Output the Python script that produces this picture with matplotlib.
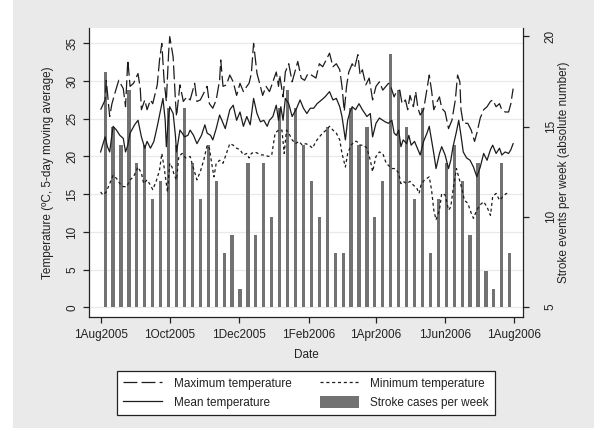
import matplotlib
matplotlib.use("Agg")
import matplotlib.pyplot as plt
import matplotlib.transforms as mtransforms
from matplotlib.patches import Patch, Rectangle
from matplotlib.lines import Line2D
import pandas as pd

plt.rcParams['font.family'] = ['Liberation Sans', 'DejaVu Sans']
plt.rcParams['lines.scale_dashes'] = False

# ---------------- data ----------------
start_date = "2005-08-01"

max_days = [0, 4, 5, 8, 10, 13, 16, 20, 22, 24, 26, 29, 33, 35, 36, 39, 41, 44, 46, 50,
            52, 54, 56, 58, 60, 61, 64, 66, 67, 70, 73, 76, 79, 83, 85, 88, 91, 94, 96, 99,
            102, 105, 106, 108, 111,
            114, 117, 120, 123, 126, 129, 131, 133, 135, 138, 141, 143, 146, 149, 152, 155,
            157, 158, 161, 163, 166, 169, 171, 174, 177, 180, 183, 186, 190, 193, 196, 199,
            202, 205, 208, 211, 213, 215, 217, 219, 222, 224, 227, 229, 231, 234, 237, 240,
            243, 246,
            249, 254, 256, 259, 261, 264, 266, 269, 271, 273, 276, 278, 280, 282, 285, 288,
            290, 292, 294, 297, 299, 301, 304, 307, 310, 313, 315, 317, 318, 320, 324, 327,
            330, 332, 335, 338, 341, 344, 346, 349, 352, 354, 357, 360, 362, 364]
max_temp = [26.2, 27.5, 30.1, 25.3, 27.0, 28.6, 30.1, 29.0, 26.6, 32.8, 29.3, 29.7, 31.0, 29.0,
            26.2, 27.5, 26.2, 27.5, 27.0, 29.5, 32.8, 35.0, 30.1, 27.3, 33.7, 35.9, 33.2, 27.5,
            25.3, 29.5, 27.3, 27.9, 27.5, 29.7, 27.3, 27.5, 28.4, 29.3, 27.0, 26.4, 27.5, 30.1,
            32.8, 29.3, 29.5,
            30.8, 29.9, 28.1, 29.7, 28.6, 29.3, 29.7, 31.0, 35.0, 31.0, 29.3, 28.1, 29.3, 28.6,
            29.9, 31.2, 29.3, 30.8, 27.9, 31.2, 32.3, 29.9, 31.0, 32.6, 30.4, 30.1, 31.0, 30.8,
            30.4, 32.3, 31.9, 32.8, 33.7, 31.9, 32.3, 31.5, 29.3, 26.0, 29.3, 31.2, 32.3, 31.7,
            33.5, 30.8, 31.5, 29.5, 30.4, 27.5, 29.3, 29.9,
            28.8, 29.7, 29.3, 27.9, 28.6, 28.8, 27.0, 27.5, 26.2, 28.1, 26.6, 28.6, 26.4, 25.5,
            26.2, 29.0, 30.8, 28.8, 26.2, 27.3, 27.9, 26.4, 25.9, 23.7, 24.8, 27.5, 30.8, 29.9,
            26.2, 24.4, 24.4, 23.5, 22.0, 23.1, 25.1, 26.2, 26.6, 27.3, 27.5, 26.6, 27.0, 26.2,
            25.9, 25.9, 27.0, 29.0]

mean_days = [0, 4, 6, 8, 11, 14, 17, 20, 22, 24, 26, 30, 33, 36, 39, 41, 44, 47, 50, 53,
             55, 57, 58, 60, 61, 64, 66, 67, 70, 72, 74, 77, 79, 82, 85, 89, 92, 94, 97, 99,
             102, 105, 107, 110,
             114, 117, 120, 123, 126, 129, 132, 135, 138, 141, 144, 147, 149, 152, 155, 157,
             159, 161, 163, 166, 169, 173, 176, 179, 182, 185, 188, 191, 195, 198, 202, 205,
             208, 211, 213, 216, 218, 220, 222, 225, 228, 231, 235, 238, 240, 243, 246,
             251, 254, 257, 259, 261, 263, 265, 267, 270, 272, 274, 277, 280, 282, 285, 288,
             290, 292, 294, 296, 299, 301, 304, 307, 309, 311, 314, 316, 318, 320, 323, 326,
             329, 332, 335, 338, 341, 344, 346, 349, 352, 354, 357, 360, 362, 364]
mean_temp = [20.6, 22.6, 21.3, 20.6, 24.0, 23.5, 22.8, 22.4, 20.6, 21.5, 23.1, 24.2, 24.8, 22.6,
             21.1, 22.0, 21.1, 22.0, 24.0, 26.2, 27.7, 24.8, 21.3, 25.3, 26.6, 25.7, 22.8, 20.6,
             23.5, 23.1, 22.6, 22.8, 23.5, 22.8, 21.7, 22.8, 24.2, 23.1, 22.8, 22.2, 23.7, 25.5,
             24.8, 23.7,
             26.2, 26.8, 24.8, 25.9, 24.0, 25.3, 24.2, 27.7, 25.7, 24.6, 24.8, 24.0, 24.8, 25.3,
             26.8, 24.8, 26.6, 24.8, 27.7, 27.0, 25.3, 26.4, 27.5, 26.4, 25.7, 26.4, 26.4, 27.0,
             27.5, 27.9, 28.6, 27.5, 27.7, 26.6, 25.3, 22.2, 24.8, 25.9, 26.6, 26.2, 27.0, 26.2,
             25.3, 25.7, 22.6, 24.4, 25.1,
             24.6, 24.4, 24.8, 23.1, 22.8, 23.5, 21.3, 22.2, 21.7, 22.8, 21.5, 22.0, 20.9, 20.2,
             22.0, 23.1, 24.0, 22.2, 20.4, 18.4, 20.4, 21.3, 20.2, 18.4, 19.5, 21.3, 23.3, 24.8,
             22.8, 20.6, 19.8, 19.5, 18.6, 17.3, 18.6, 20.4, 19.5, 20.9, 21.5, 20.4, 21.1, 20.2,
             20.6, 20.4, 20.9, 21.7]

min_days = [0, 2, 5, 8, 11, 14, 17, 20, 23, 26, 29, 33, 36, 38, 41, 44, 46, 49, 52, 54,
            56, 58, 59, 61, 63, 65, 67, 69, 72, 75, 79, 82, 85, 88, 91, 94, 96, 98, 100, 102,
            105, 108, 111,
            114, 117, 120, 123, 126, 129, 131, 133, 136, 139, 142, 145, 148, 151, 154, 157,
            160, 162, 164, 166, 169, 172, 175, 178, 181, 184, 187, 190, 193, 196, 199, 202,
            205, 208, 211, 213, 216, 218, 221, 224, 226, 229, 232, 235, 238, 240, 243, 246,
            249, 252, 257, 260, 263, 265, 267, 270, 273, 276, 279, 281, 283, 286, 290, 292,
            294, 296, 299, 301, 304, 307, 309, 311, 314, 316, 319, 321, 324, 327, 329, 332,
            335, 338, 341, 344, 346, 349, 352, 355, 358, 361]
min_temp = [15.3, 14.9, 15.3, 16.4, 17.5, 17.1, 16.4, 16.0, 16.0, 16.9, 17.3, 18.6, 17.8, 16.4,
            16.9, 16.2, 15.6, 16.7, 18.2, 20.4, 18.6, 16.4, 15.3, 19.1, 18.6, 17.5, 16.9, 20.0,
            20.4, 19.8, 20.0, 18.4, 16.9, 18.0, 19.5, 21.5, 21.1, 19.1, 17.3, 19.1, 19.5, 19.1,
            20.4,
            21.7, 21.5, 21.1, 20.9, 20.2, 20.4, 19.8, 20.4, 20.6, 20.4, 20.2, 20.2, 20.0, 20.2,
            23.1, 23.5, 23.5, 20.4, 23.5, 23.1, 22.2, 21.7, 22.0, 21.5, 21.7, 21.5, 21.1, 22.0,
            22.6, 23.1, 23.5, 24.0, 23.5, 23.1, 22.2, 20.4, 18.6, 20.4, 21.5, 22.0, 22.0, 21.5,
            21.5, 21.1, 19.5, 18.0, 20.0, 20.6,
            20.4, 19.1, 18.4, 18.4, 17.8, 16.4, 16.7, 16.4, 16.7, 16.2, 15.8, 15.1, 16.4, 16.9,
            17.3, 15.6, 12.9, 11.6, 12.9, 15.1, 14.9, 12.9, 13.3, 15.6, 18.4, 17.3, 15.6, 14.2,
            13.8, 12.5, 11.8, 12.9, 13.6, 14.0, 13.3, 12.2, 14.7, 15.1, 14.2, 14.7, 15.1, 14.9]

week_start = "2005-08-05"
stroke_cases = [18, 15, 14, 17, 13, 14, 11, 12, 16, 14, 16, 13, 11, 14, 12, 8, 9, 6, 13, 9,
                13, 10, 16, 17, 16, 14, 12, 10, 15, 8, 8, 16, 14, 15, 10, 12, 19, 17, 15, 11,
                16, 8, 11, 13, 14, 12, 9, 13, 7, 6, 13, 8]

tick_dates = ["2005-08-01", "2005-10-01", "2005-12-01", "2006-02-01",
              "2006-04-01", "2006-06-01", "2006-08-01"]
tick_labels = ["1Aug2005", "1Oct2005", "1Dec2005", "1Feb2006",
               "1Apr2006", "1Jun2006", "1Aug2006"]
left_ticks = [0, 5, 10, 15, 20, 25, 30, 35]
right_ticks = [5, 10, 15, 20]

# ---------------- figure ----------------
base = pd.Timestamp(start_date)
to_dates = lambda d: [base + pd.Timedelta(days=x) for x in d]
bar_dates = pd.date_range(week_start, periods=len(stroke_cases), freq="7D")

BG = "#eaeaea"
TXT = "#222222"
fig = plt.figure(figsize=(5.94, 4.28), dpi=100)
fig.patch.set_facecolor(BG)
fig.patches.append(Rectangle((0, 0), 13 / 594, 1, transform=fig.transFigure,
                             facecolor="white", edgecolor="none", zorder=-10))

pos = [0.1503, 0.260, 0.7307, 0.6746]
ax2 = fig.add_axes(pos)                  # bars (right axis), back
ax = fig.add_axes(pos, sharex=ax2)       # lines (left axis), front
ax.set_zorder(ax2.get_zorder() + 1)
ax.patch.set_visible(False)
ax2.set_facecolor("white")

# bars
ax2.bar(bar_dates, [v - 5 for v in stroke_cases], bottom=5, width=2.8,
        color="#727272", edgecolor="none", zorder=2)
ax2.set_ylim(4.46, 20.46)
ax2.set_yticks(right_ticks)
ax2.yaxis.tick_right()
ax2.yaxis.set_label_position("right")

# gridlines (left-axis values) drawn behind bars
gtrans = mtransforms.blended_transform_factory(ax2.transAxes, ax.transData)
for t in left_ticks:
    ax2.plot([0, 1], [t, t], transform=gtrans, color="#e9e9e9", lw=0.9, zorder=1)

# lines
lc = "#1c1c1c"
ax.plot(to_dates(max_days), max_temp, color=lc, lw=0.9, dashes=(10, 3))
ax.plot(to_dates(mean_days), mean_temp, color=lc, lw=0.9)
ax.plot(to_dates(min_days), min_temp, color=lc, lw=0.9, dashes=(2.2, 2))
ax.set_ylim(-1.25, 37.04)
ax.set_yticks(left_ticks)

ax.set_xlim(pd.Timestamp("2005-07-22"), pd.Timestamp("2006-08-09"))
ax.set_xticks([pd.Timestamp(d) for d in tick_dates])
ax.set_xticklabels(tick_labels)

fs = 8.5
for a in (ax, ax2):
    a.spines["top"].set_visible(False)
    for s in a.spines.values():
        s.set_linewidth(0.9)
        s.set_color(TXT)
ax.spines["right"].set_visible(False)
ax2.spines["left"].set_visible(False)
ax2.spines["bottom"].set_visible(False)
ax2.tick_params(axis="x", bottom=False, labelbottom=False)

ax.tick_params(axis="both", direction="out", length=4.5, width=0.9, color=TXT,
               labelsize=fs, labelcolor=TXT)
ax.tick_params(axis="y", pad=3.5, labelrotation=90)
ax.tick_params(axis="x", pad=4)
for lab in ax.get_yticklabels():
    lab.set_va("center")
ax2.tick_params(axis="y", direction="out", length=4.5, width=0.9, color=TXT,
                labelsize=fs, labelcolor=TXT, pad=11, labelrotation=90)
for lab in ax2.get_yticklabels():
    lab.set_va("center")

ax.set_ylabel("Temperature (ºC, 5-day moving average)", fontsize=fs, color=TXT, labelpad=9)
ax2.set_ylabel("Stroke events per week (absolute number)", fontsize=fs, color=TXT,
               labelpad=1, rotation=90)
ax.set_xlabel("Date", fontsize=fs, color=TXT, labelpad=6)

handles = [Line2D([], [], color=lc, lw=0.9, dashes=(10, 3)),
           Line2D([], [], color=lc, lw=0.9),
           Line2D([], [], color=lc, lw=0.9, dashes=(2.2, 2)),
           Patch(facecolor="#727272", edgecolor="none")]
labels = ["Maximum temperature", "Mean temperature", "Minimum temperature",
          "Stroke cases per week"]
leg = fig.legend(handles, labels, ncol=2, loc="center", bbox_to_anchor=(0.515, 0.082),
                 fontsize=fs, frameon=True, fancybox=False, edgecolor=TXT,
                 facecolor="white", framealpha=1, handlelength=3.3, handleheight=1.2,
                 handletextpad=1.0, columnspacing=2.4, labelspacing=0.55,
                 borderpad=0.5)
leg.get_frame().set_linewidth(0.9)
for t in leg.get_texts():
    t.set_color(TXT)

fig.savefig("out.png", dpi=100, facecolor=fig.get_facecolor())
